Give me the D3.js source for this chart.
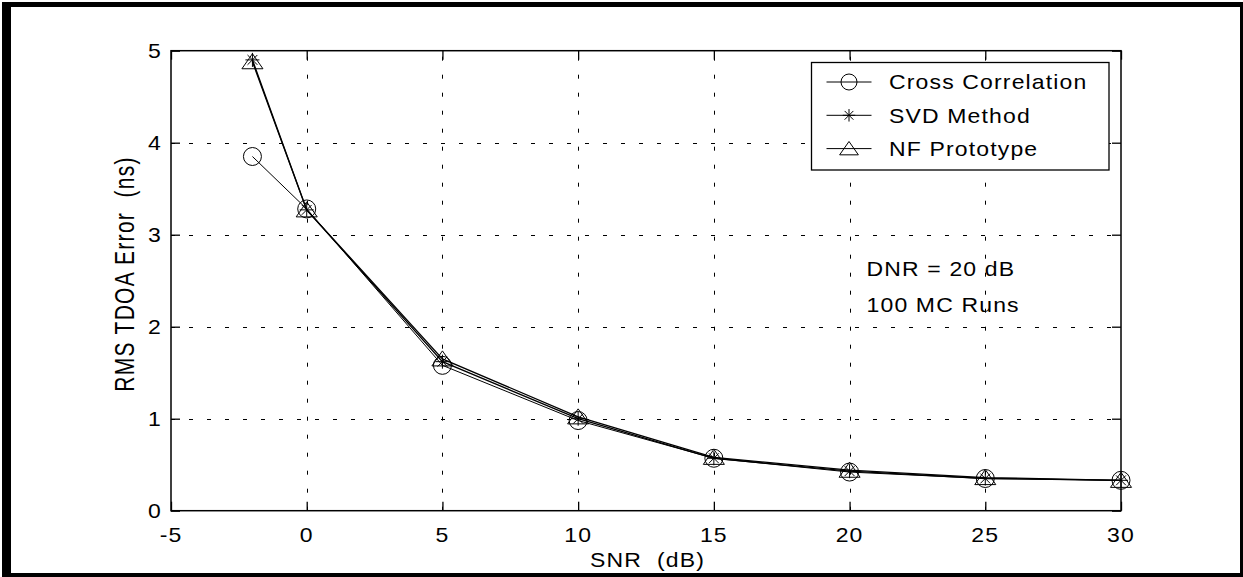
<!DOCTYPE html>
<html>
<head>
<meta charset="utf-8">
<script src="https://cdn.jsdelivr.net/npm/d3@7"></script>
<style>
  html, body { margin: 0; padding: 0; background: #fff; }
  svg { display: block; }
  text { font-family: "Liberation Sans", Arial, sans-serif; fill: #000; }
</style>
</head>
<body>
<script>
// ---- data ----
const snr = [-2, 0, 5, 10, 15, 20, 25, 30];
const crossCorr = [3.85, 3.28, 1.58, 0.98, 0.57, 0.42, 0.35, 0.33];
const svdMethod = [4.90, 3.27, 1.62, 1.00, 0.57, 0.43, 0.35, 0.33];
const nfProto = [4.88, 3.27, 1.65, 1.02, 0.58, 0.44, 0.36, 0.33];
const xTicks = [-5, 0, 5, 10, 15, 20, 25, 30];
const yTicks = [0, 1, 2, 3, 4, 5];
const seriesNames = ["Cross Correlation", "SVD Method", "NF Prototype"];
const annotations = ["DNR = 20 dB", "100 MC Runs"];
const xLabel = "SNR  (dB)";
const yLabel = "RMS TDOA Error  (ns)";

// ---- layout ----
const W = 1243, H = 577;
const L = 171, R = 1121, T = 50.7, B = 510.7;
const FS = 20, SX = 1.15, LSP = 1.0;

const svg = d3.select("body").append("svg").attr("width", W).attr("height", H);

// outer frame
svg.append("rect").attr("x", 2).attr("y", 2).attr("width", 9).attr("height", 575).attr("fill", "#000");
svg.append("rect").attr("x", 2).attr("y", 2).attr("width", 1241).attr("height", 5).attr("fill", "#000");
svg.append("rect").attr("x", 1240).attr("y", 2).attr("width", 3).attr("height", 575).attr("fill", "#000");
svg.append("rect").attr("x", 2).attr("y", 573).attr("width", 1241).attr("height", 4).attr("fill", "#000");

const x = d3.scaleLinear().domain([-5, 30]).range([L, R]);
const y = d3.scaleLinear().domain([0, 5]).range([B, T]);

// grid
const grid = svg.append("g").attr("stroke", "#000").attr("stroke-width", 1).attr("stroke-dasharray", "4,14");
grid.selectAll("line.gx").data(xTicks.slice(1, -1)).join("line")
  .attr("x1", d => Math.round(x(d)) + 0.5).attr("x2", d => Math.round(x(d)) + 0.5)
  .attr("y1", B).attr("y2", T);
grid.selectAll("line.gy").data(yTicks.slice(1, -1)).join("line")
  .attr("y1", d => Math.round(y(d)) + 0.5).attr("y2", d => Math.round(y(d)) + 0.5)
  .attr("x1", L).attr("x2", R);

// helper: horizontally stretched, letter-spaced text
function stext(parent, tx, ty, str, anchor) {
  return parent.append("text")
    .attr("transform", `translate(${tx},${ty}) scale(${SX},1)`)
    .attr("text-anchor", anchor || "start")
    .style("font-size", FS + "px").style("letter-spacing", LSP + "px")
    .style("white-space", "pre").text(str);
}

// axes (ticks only, labels drawn separately)
function styleAxis(g) {
  g.select(".domain").remove();
  g.selectAll(".tick line").attr("stroke", "#000").attr("stroke-width", 1.3);
  g.selectAll(".tick text").remove();
}
const gB = svg.append("g").attr("transform", `translate(0,${B})`)
  .call(d3.axisBottom(x).tickValues(xTicks).tickSizeInner(-9));
styleAxis(gB);
const gT = svg.append("g").attr("transform", `translate(0,${T})`)
  .call(d3.axisTop(x).tickValues(xTicks).tickSizeInner(-9));
styleAxis(gT);
const gL = svg.append("g").attr("transform", `translate(${L},0)`)
  .call(d3.axisLeft(y).tickValues(yTicks).tickSizeInner(-9));
styleAxis(gL);
const gR = svg.append("g").attr("transform", `translate(${R},0)`)
  .call(d3.axisRight(y).tickValues(yTicks).tickSizeInner(-9));
styleAxis(gR);

// tick labels
const tl = svg.append("g");
xTicks.forEach(t => stext(tl, x(t), 541.5, String(t), "middle"));
yTicks.forEach(t => stext(tl, 162, y(t) + 7, String(t), "end"));

// axis box
svg.append("rect").attr("x", L).attr("y", T).attr("width", R - L).attr("height", B - T)
  .attr("fill", "none").attr("stroke", "#000").attr("stroke-width", 1.5);

// axis labels
stext(svg, (L + R) / 2 + 1.5, 566.7, xLabel, "middle");
svg.append("text").attr("transform", `translate(134,${274}) rotate(-90) scale(1,1.3)`).attr("text-anchor", "middle")
  .style("font-size", "21px").style("letter-spacing", "1.3px").style("white-space", "pre").text(yLabel);

// annotations
annotations.forEach((a, i) => stext(svg, 866.5, 275.7 + i * 36.6, a));

// markers
function drawMarker(g, type, cx, cy, r) {
  r = r || 9;
  if (type === "circle") {
    g.append("circle").attr("cx", cx).attr("cy", cy).attr("r", r)
      .attr("fill", "none").attr("stroke", "#000").attr("stroke-width", 1);
  } else if (type === "star") {
    const s = r * 0.78;
    const p = d3.path();
    p.moveTo(cx - s, cy); p.lineTo(cx + s, cy);
    p.moveTo(cx, cy - s); p.lineTo(cx, cy + s);
    p.moveTo(cx - s * 0.7, cy - s * 0.7); p.lineTo(cx + s * 0.7, cy + s * 0.7);
    p.moveTo(cx - s * 0.7, cy + s * 0.7); p.lineTo(cx + s * 0.7, cy - s * 0.7);
    g.append("path").attr("d", p.toString()).attr("fill", "none").attr("stroke", "#000").attr("stroke-width", 1);
  } else {
    const hw = r * 1.17, ht = r * 0.89, hb = r * 0.78;
    g.append("path").attr("d", `M${cx},${cy - ht}L${cx + hw},${cy + hb}L${cx - hw},${cy + hb}Z`)
      .attr("fill", "none").attr("stroke", "#000").attr("stroke-width", 1);
  }
}

const series = [
  { name: seriesNames[0], values: crossCorr, marker: "circle", width: 1 },
  { name: seriesNames[1], values: svdMethod, marker: "star", width: 1.3 },
  { name: seriesNames[2], values: nfProto, marker: "triangle", width: 1.3 }
];

const line = d3.line().x(d => x(d[0])).y(d => y(d[1]));
const plot = svg.append("g");
series.forEach(s => {
  const pts = snr.map((v, i) => [v, s.values[i]]);
  plot.append("path").attr("d", line(pts)).attr("fill", "none").attr("stroke", "#000").attr("stroke-width", s.width);
  const mg = plot.append("g");
  pts.forEach(p => drawMarker(mg, s.marker, x(p[0]), y(p[1])));
});

// legend
const lg = svg.append("g");
lg.append("rect").attr("x", 811.5).attr("y", 62.5).attr("width", 297.5).attr("height", 107.5)
  .attr("fill", "#fff").attr("stroke", "#000").attr("stroke-width", 1.3);
series.forEach((s, i) => {
  const cy = 82 + i * 33.3;
  lg.append("line").attr("x1", 826.5).attr("x2", 871.5).attr("y1", cy).attr("y2", cy)
    .attr("stroke", "#000").attr("stroke-width", 1);
  drawMarker(lg, s.marker, 849, cy, 8);
  stext(lg, 889, cy + 7.3, s.name);
});
</script>
</body>
</html>
